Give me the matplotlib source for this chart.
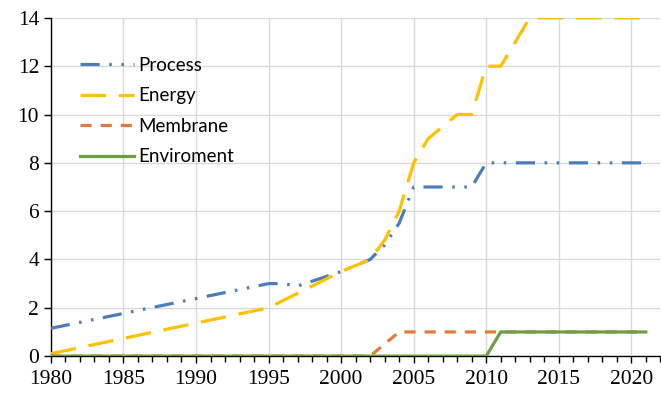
import matplotlib.pyplot as plt
from matplotlib.ticker import MultipleLocator

# data
proc_x = [1980, 1995, 1996, 1997, 2000, 2002, 2003, 2004, 2005, 2009, 2010, 2021]
proc_y = [1.15, 3.0, 3.0, 2.9, 3.5, 4.0, 4.6, 5.5, 7.0, 7.0, 8.0, 8.0]

ener_x = [1980, 1995, 2000, 2002, 2003, 2004, 2005, 2006, 2007, 2008, 2009, 2010, 2011, 2012, 2013, 2021]
ener_y = [0.1, 2.0, 3.5, 4.0, 4.8, 6.0, 8.0, 9.0, 9.5, 10.0, 10.0, 12.0, 12.0, 13.0, 14.0, 14.0]

memb_x = [1980, 2002, 2003, 2004, 2021]
memb_y = [0, 0, 0.5, 1, 1]

env_x = [1980, 2010, 2011, 2021]
env_y = [0, 0, 1, 1]

plt.figure(figsize=(6.61, 3.97), dpi=100)
ax = plt.axes([0.077, 0.103, 0.922, 0.852])

lw = 2.3
ax.plot(proc_x, proc_y, color="#4A7EBB", linewidth=lw, dashes=(6, 3, 0.8, 3, 0.8, 3), label="Process", zorder=3)
ax.plot(ener_x, ener_y, color="#FFC000", linewidth=lw, dashes=(8, 4), label="Energy", zorder=3)
ax.plot(memb_x, memb_y, color="#E07B39", linewidth=lw, dashes=(3.5, 2.8), label="Membrane", zorder=3)
ax.plot(env_x, env_y, color="#6A9F45", linewidth=lw, label="Enviroment", zorder=4)

ax.set_xlim(1980, 2022)
ax.set_ylim(0, 14)
ax.xaxis.set_major_locator(MultipleLocator(5))
ax.xaxis.set_minor_locator(MultipleLocator(1))
ax.yaxis.set_major_locator(MultipleLocator(2))
ax.grid(True, color="#d9d9d9", linewidth=1.0, zorder=0)
ax.set_axisbelow(True)

for s in ["top", "right"]:
    ax.spines[s].set_visible(False)
ax.spines["left"].set_linewidth(1.0)
ax.spines["bottom"].set_linewidth(1.0)
ax.tick_params(direction="out", length=5, width=1, labelsize=15.5)
ax.tick_params(axis="x", pad=5)
ax.tick_params(which="minor", direction="out", length=4, width=1)
for lab in ax.get_xticklabels() + ax.get_yticklabels():
    lab.set_fontfamily("Liberation Serif")

leg = ax.legend(loc="upper left", bbox_to_anchor=(0.02, 0.935), frameon=False,
                prop={"family": "Lato", "size": 13.5}, handlelength=2.9,
                handletextpad=0.2, labelspacing=0.72)

plt.savefig("out.png", dpi=100)
plt.close()
